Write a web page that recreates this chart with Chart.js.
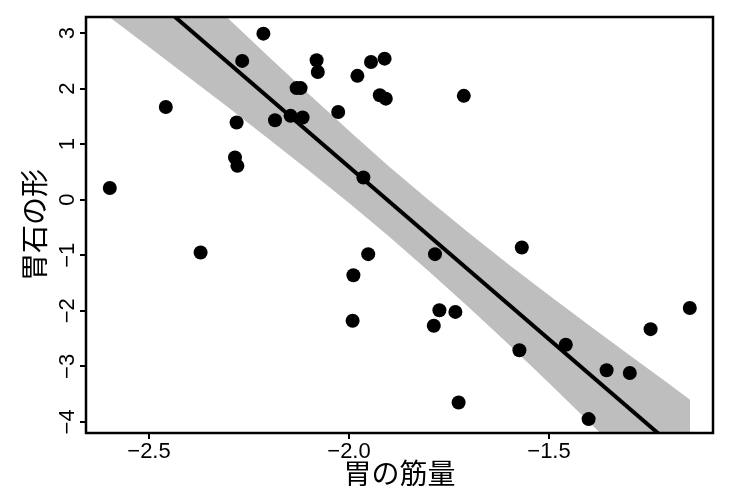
<!DOCTYPE html>
<html>
<head>
<meta charset="utf-8">
<script src="https://cdn.jsdelivr.net/npm/chart.js@4.4.1/dist/chart.umd.min.js"></script>
<style>
  body { margin: 0; background: #fff; }
  #wrap { width: 738px; height: 497px; }
</style>
</head>
<body>
<div id="wrap"><canvas id="stone-chart" width="738" height="497"></canvas></div>
<script>
// tick labels
const xTicks = [-2.5, -2.0, -1.5];
const yTicks = [-4, -3, -2, -1, 0, 1, 2, 3];

// observations: stomach muscle (x) vs stone shape (y)
const muscleX = [-2.598, -2.458, -2.281, -2.285, -2.279, -2.267, -2.214, -2.185, -2.146, -2.131,
                 -2.121, -2.116, -2.081, -2.078, -2.027, -1.979, -1.945, -1.911, -1.923, -1.908,
                 -1.964, -1.713, -2.371, -1.952, -1.989, -1.991, -1.785, -1.568, -1.774, -1.734,
                 -1.788, -1.574, -1.458, -1.356, -1.298, -1.246, -1.148, -1.726, -1.401];
const stoneY = [0.21, 1.67, 1.39, 0.76, 0.61, 2.50, 2.99, 1.43, 1.51, 2.01,
                2.01, 1.48, 2.51, 2.30, 1.58, 2.23, 2.48, 2.54, 1.88, 1.82,
                0.40, 1.87, -0.95, -0.98, -1.36, -2.18, -0.98, -0.86, -1.99, -2.02,
                -2.27, -2.71, -2.61, -3.07, -3.12, -2.33, -1.95, -3.65, -3.95];

// fitted line and its confidence band
const fitX = [-2.5975, -1.1475];
const fitY = [4.30, -4.70];
const bandX = [-2.5975, -2.5, -2.4, -2.3, -2.2, -2.1, -2.0, -1.9, -1.8, -1.7,
               -1.6, -1.5, -1.4, -1.3, -1.2, -1.1475];
const bandUpper = [5.32, 4.63, 3.94, 3.25, 2.57, 1.90, 1.24, 0.60, -0.01, -0.60,
                   -1.17, -1.72, -2.26, -2.79, -3.32, -3.60];
const bandLower = [3.28, 2.75, 2.20, 1.65, 1.09, 0.52, -0.06, -0.66, -1.29, -1.94,
                   -2.61, -3.30, -4.00, -4.71, -5.42, -5.80];

const tickFont = { family: "'Liberation Sans', Arial, sans-serif", size: 22 };
const titleFont = { family: "'Noto Sans CJK JP', sans-serif", size: 28 };

function minusLabel(value, digits) {
    const s = Math.abs(value).toFixed(digits);
    return value < 0 ? '\u2212' + s : s;
}

function toPoints(xs, ys) {
    return xs.map((x, i) => ({ x: x, y: ys[i] }));
}

// black box round the panel
const panelBorder = {
    id: 'panelBorder',
    afterDraw(chart) {
        const { ctx, chartArea: a } = chart;
        ctx.save();
        ctx.strokeStyle = '#000';
        ctx.lineWidth = 2.5;
        ctx.strokeRect(a.left, a.top, a.right - a.left, a.bottom - a.top);
        ctx.restore();
    }
};

const tickGrid = { drawOnChartArea: false, drawTicks: true, tickLength: 6, color: '#000', lineWidth: 2 };

const ctx = document.getElementById('stone-chart').getContext('2d');
new Chart(ctx, {
    type: 'scatter',
    data: {
        datasets: [
            {
                type: 'line',
                data: toPoints(bandX, bandLower),
                borderWidth: 0,
                pointRadius: 0,
                fill: false,
                clip: 0,
                order: 3
            },
            {
                type: 'line',
                data: toPoints(bandX, bandUpper),
                borderWidth: 0,
                pointRadius: 0,
                backgroundColor: 'rgb(190,190,190)',
                fill: '-1',
                clip: 0,
                order: 2
            },
            {
                type: 'line',
                data: toPoints(fitX, fitY),
                borderColor: '#000',
                borderWidth: 4,
                pointRadius: 0,
                fill: false,
                clip: 0,
                order: 1
            },
            {
                data: toPoints(muscleX, stoneY),
                backgroundColor: '#000',
                borderWidth: 0,
                pointRadius: 7,
                pointHoverRadius: 7,
                order: 0
            }
        ]
    },
    options: {
        responsive: false,
        animation: false,
        events: [],
        layout: { padding: { left: 0, right: 25, top: 17, bottom: 0 } },
        plugins: {
            legend: { display: false },
            tooltip: { enabled: false }
        },
        scales: {
            x: {
                type: 'linear',
                min: -2.6575,
                max: -1.09,
                afterBuildTicks: scale => { scale.ticks = xTicks.map(v => ({ value: v })); },
                afterFit: scale => { scale.height = 64; },
                grid: tickGrid,
                border: { display: false },
                ticks: {
                    font: tickFont,
                    color: '#000',
                    padding: 0,
                    maxRotation: 0,
                    autoSkip: false,
                    callback: v => minusLabel(v, 1)
                },
                title: {
                    display: true,
                    text: '胃の筋量',
                    font: titleFont,
                    color: '#000',
                    padding: { top: 0, bottom: 7 }
                }
            },
            y: {
                type: 'linear',
                min: -4.2,
                max: 3.29,
                afterBuildTicks: scale => { scale.ticks = yTicks.map(v => ({ value: v })); },
                afterFit: scale => { scale.width = 86; },
                grid: tickGrid,
                border: { display: false },
                ticks: {
                    font: tickFont,
                    color: '#000',
                    padding: 0,
                    minRotation: 90,
                    maxRotation: 90,
                    crossAlign: 'center',
                    autoSkip: false,
                    callback: v => minusLabel(v, 0)
                },
                title: {
                    display: true,
                    text: '胃石の形',
                    font: titleFont,
                    color: '#000',
                    padding: { top: 18, bottom: 0 }
                }
            }
        }
    },
    plugins: [panelBorder]
});
</script>
</body>
</html>
